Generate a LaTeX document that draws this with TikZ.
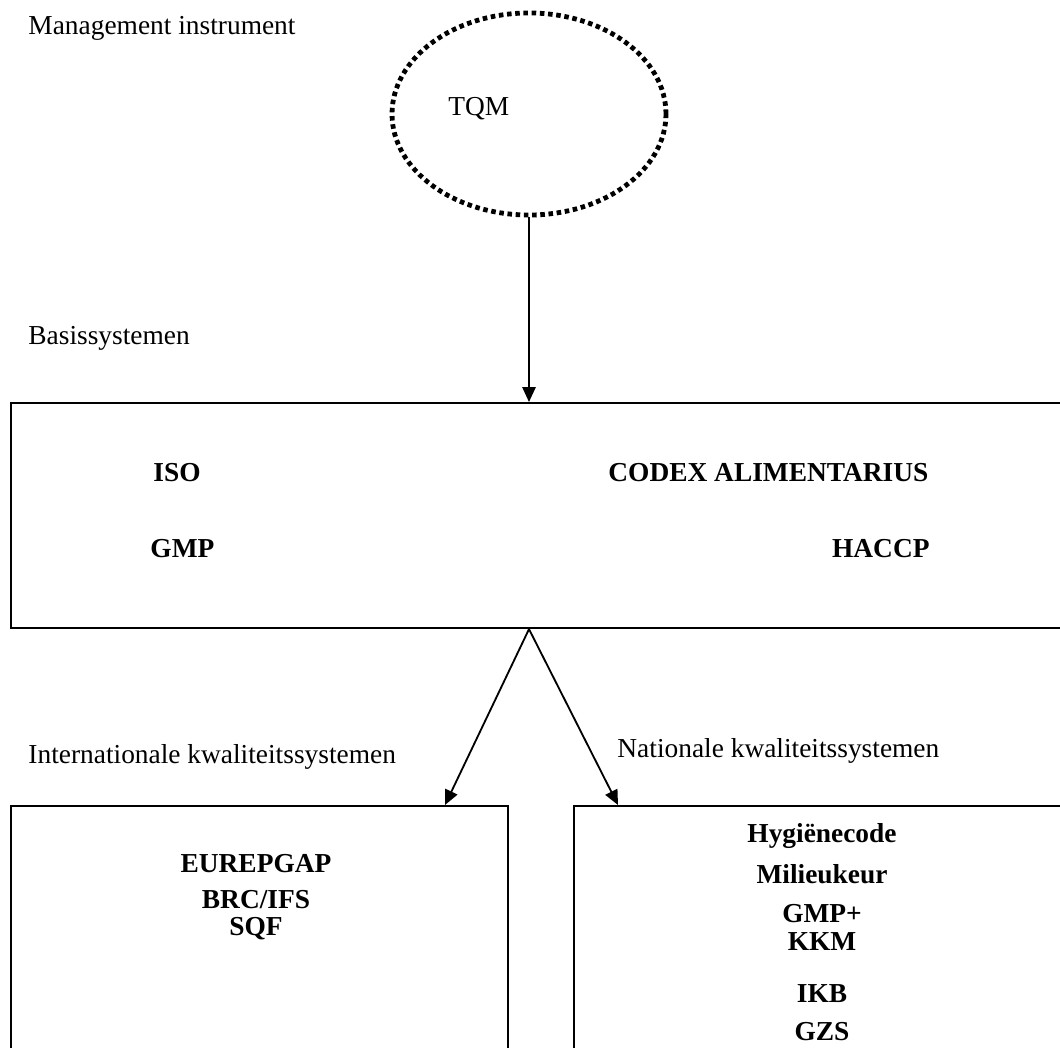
\documentclass[tikz,border=0pt]{standalone}
\usepackage{fontspec}
\setmainfont{Liberation Serif}
\usetikzlibrary{shapes.geometric,arrows.meta}

\begin{document}
\begin{tikzpicture}
[
  x=0.438pt, y=-0.438pt,
  caption/.style = {anchor=base west, inner sep=0pt,
                    font=\fontsize{12}{14}\selectfont},
  item/.style    = {anchor=base, inner sep=0pt,
                    font=\fontsize{12}{14}\selectfont\bfseries},
  panel/.style   = {draw, line width=0.88pt, anchor=north west, inner sep=0pt},
  ring/.style    = {shape=ellipse, draw, line width=2.1pt,
                    dash pattern=on 2pt off 1.6pt, inner sep=0pt,
                    minimum width=120pt, minimum height=88.5pt},
  flow/.style    = {draw, line width=0.8pt, -{Triangle[length=6.5pt,width=5.8pt]}}
]
\clip (0,0) rectangle (1060,1048);
\node [caption] (mgmt) at (28,35) {Management instrument};
\node [ring] (tqmring) at (529,114) {};
\node [caption] (tqm) at (448,116) {TQM};
\node [caption] (basislbl) at (28,345) {Basissystemen};
\node [panel, minimum width=464pt, minimum height=98.6pt] (basis) at (10,402) {};
\node [item, anchor=base west] (iso) at (153,482) {ISO};
\node [item, anchor=base west] (codex) at (608,482) {CODEX ALIMENTARIUS};
\node [item, anchor=base west] (gmp) at (150,557) {GMP};
\node [item, anchor=base east] (haccp) at (930,557) {HACCP};
\node [caption] (intllbl) at (28,763) {Internationale kwaliteitssystemen};
\node [caption] (natlbl) at (617,757) {Nationale kwaliteitssystemen};
\node [panel, minimum width=217.7pt, minimum height=121pt] (intl) at (10,805) {};
\node [panel, minimum width=231pt, minimum height=121pt] (nat) at (573,805) {};
\node [item] (eurepgap) at (256,872) {EUREPGAP};
\node [item] (brcifs) at (256,908) {BRC/IFS};
\node [item] (sqf) at (256,935) {SQF};
\node [item] (hygiene) at (822,842) {Hygiënecode};
\node [item] (milieu) at (822,883) {Milieukeur};
\node [item] (gmpplus) at (822,922) {GMP+};
\node [item] (kkm) at (822,950) {KKM};
\node [item] (ikb) at (822,1002) {IKB};
\node [item] (gzs) at (822,1040) {GZS};
\coordinate (split) at (tqmring.south |- basis.south);
\coordinate (tipL) at (445,805);
\coordinate (tipR) at (618,805);
\draw [flow] (tqmring.south) -- (tqmring.south |- basis.north);
\draw [flow] (split) -- (tipL);
\draw [flow] (split) -- (tipR);
\end{tikzpicture}
\end{document}
